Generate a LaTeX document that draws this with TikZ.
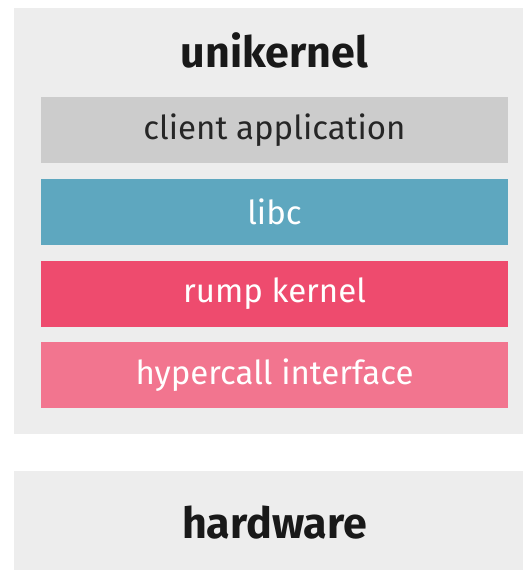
\documentclass[tikz,border=0pt]{standalone}
\usepackage{fontspec}
\setmainfont{Fira Sans}
\usepackage{tikz}
\usetikzlibrary{positioning}
\definecolor{panelgrey}{HTML}{EDEDED}
\definecolor{appgrey}{HTML}{CCCCCC}
\definecolor{libcblue}{HTML}{5EA7BF}
\definecolor{rumpred}{HTML}{EE4B6E}
\definecolor{hyperpink}{HTML}{F2758F}
\tikzset{
	panel/.style={fill=panelgrey, minimum width=521pt, inner sep=0pt},
	layer/.style={minimum width=467pt, minimum height=66pt, inner sep=0pt, font=\fontsize{33}{38}\selectfont, text=white, fill=#1},
	heading/.style={font=\fontsize{43}{50}\selectfont\bfseries, text=black!90},
}

\begin{document}
\begin{tikzpicture}[x=1pt, y=-1pt]
		\useasboundingbox (0,0) rectangle (522,570);
		% Panels
		\node[panel, minimum height=426pt] (uni) at (274.5,221) {};
		\node[panel, minimum height=104pt] (hw) at (274.5,523) {};
		\node[heading] (unititle) at (274.5,50) {unikernel};
		\node[heading] (hwtitle) at (274.5,523) {hardware};

		% Layers
		\node[layer=appgrey, text=black!85] (app) at (274.5,130) {client application};
		\node[layer=libcblue] (libc) at (274.5,212) {libc};
		\node[layer=rumpred] (rump) at (274.5,293.5) {rump kernel};
		\node[layer=hyperpink] (hyper) at (274.5,375) {hypercall interface};
	\end{tikzpicture}
\end{document}
